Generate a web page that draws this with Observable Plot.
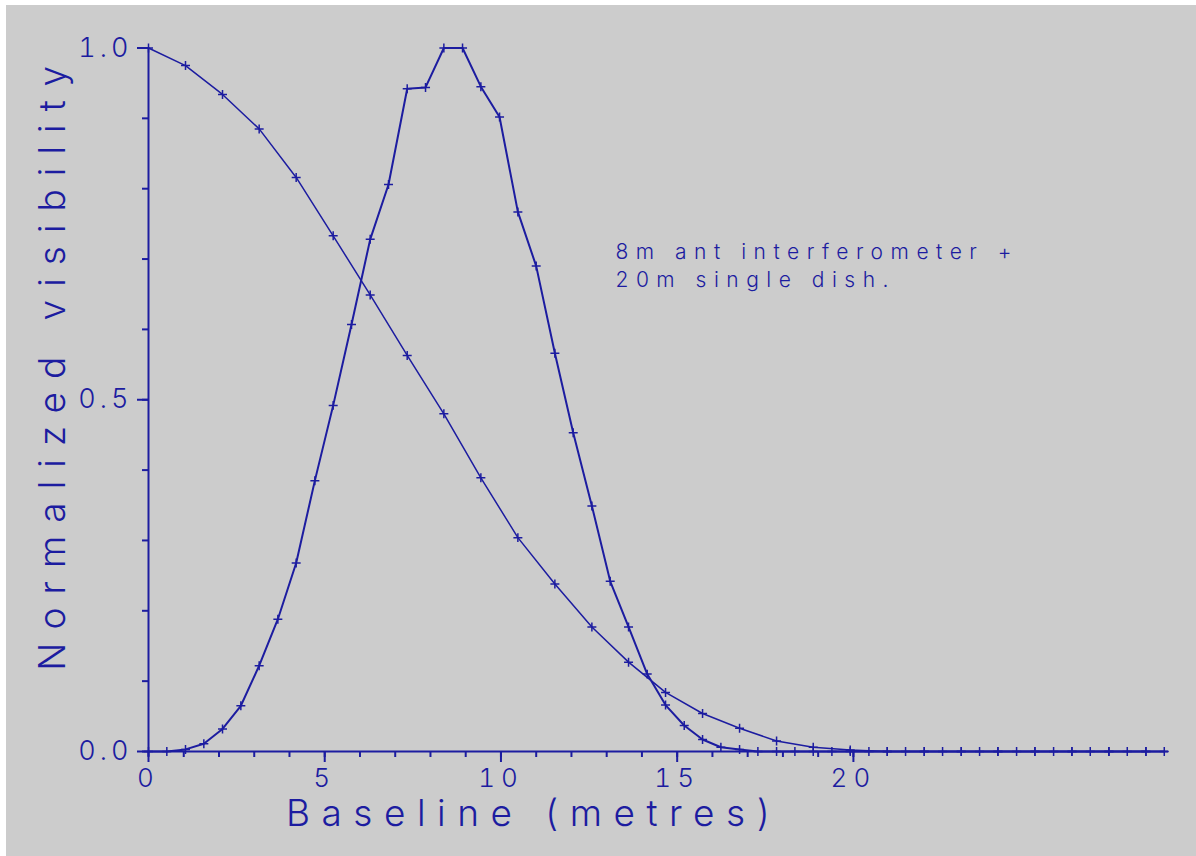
<!DOCTYPE html>
<html>
<head>
<meta charset="utf-8">
<script src="https://cdn.jsdelivr.net/npm/d3@7"></script>
<script src="https://cdn.jsdelivr.net/npm/@observablehq/plot@0.6"></script>
<style>
  html, body { margin: 0; padding: 0; background: #ffffff; }
  #chart { position: absolute; left: 6px; top: 5px; }
  #chart svg { display: block; background: #cccccc; }
  g[aria-label="x-axis tick label"] text { letter-spacing: 6px; }
  g[aria-label="y-axis tick label"] text { letter-spacing: 4px; }
</style>
</head>
<body>
<div id="chart"></div>
<script>
// Baseline sample positions (metres)
const dishBaseline = [0, 1.05, 2.10, 3.14, 4.19, 5.24, 6.29, 7.34, 8.38, 9.43, 10.48, 11.53, 12.58, 13.62,
  14.67, 15.72, 16.77, 17.82, 18.86, 19.91, 20.96, 22.01, 23.06, 24.10, 25.15, 26.20, 27.25, 28.30];
// 20m single dish normalized visibility
const dishVisibility = [1.0, 0.975, 0.934, 0.885, 0.816, 0.733, 0.649, 0.563, 0.480, 0.389, 0.304, 0.238, 0.177, 0.127,
  0.084, 0.054, 0.033, 0.015, 0.006, 0.002, 0, 0, 0, 0, 0, 0, 0, 0];

const interBaseline = [0, 0.52, 1.05, 1.57, 2.10, 2.62, 3.14, 3.67, 4.19, 4.72, 5.24, 5.76, 6.29, 6.81, 7.34, 7.86,
  8.38, 8.91, 9.43, 9.96, 10.48, 11.00, 11.53, 12.05, 12.58, 13.10, 13.62, 14.15, 14.67, 15.20, 15.72, 16.24,
  16.77, 17.29, 17.82, 18.34, 18.86, 19.39, 19.91, 20.44, 20.96, 21.48, 22.01, 22.53, 23.06, 23.58, 24.10, 24.63,
  25.15, 25.68, 26.20, 26.72, 27.25, 27.77, 28.30, 28.82];
// 8m ant interferometer normalized visibility
const interVisibility = [0, 0, 0.003, 0.011, 0.032, 0.065, 0.122, 0.188, 0.268, 0.385, 0.492, 0.607, 0.728, 0.806,
  0.942, 0.944, 1.0, 1.0, 0.945, 0.902, 0.767, 0.690, 0.566, 0.453, 0.349, 0.242, 0.177, 0.110, 0.066, 0.037,
  0.017, 0.006, 0.003, 0, 0, 0, 0, 0, 0, 0, 0, 0, 0, 0, 0, 0, 0, 0, 0, 0, 0, 0, 0, 0, 0, 0];

const xMajorTicks = [0, 5, 10, 15, 20];
const xMinorTicks = [0, 1, 2, 3, 4, 5, 6, 7, 8, 9, 10, 11, 12, 13, 14, 15, 16, 17, 18, 19, 20];
const yMajorTicks = [0, 0.5, 1.0];
const yMinorTicks = [0, 0.1, 0.2, 0.3, 0.4, 0.5, 0.6, 0.7, 0.8, 0.9, 1.0];

const xTitle = "Baseline (metres)";
const yTitle = "Normalized visibility";
const noteLine1 = "8m ant interferometer +";
const noteLine2 = "20m single dish.";

const blue = "#1c1ca0";
const font = "Inter, 'DejaVu Sans', sans-serif";

const dish = dishBaseline.map((b, i) => ({b, v: dishVisibility[i]}));
const inter = interBaseline.map((b, i) => ({b, v: interVisibility[i]}));

const chart = Plot.plot({
  width: 1190,
  height: 851,
  marginLeft: 142,
  marginRight: 28,
  marginTop: 42.5,
  marginBottom: 105,
  style: {background: "#cccccc", fontFamily: font, color: blue, fontWeight: 300},
  x: {domain: [0, 28.94]},
  y: {domain: [0, 1]},
  marks: [
    Plot.ruleY([0], {stroke: blue, strokeWidth: 2}),
    Plot.ruleX([0], {stroke: blue, strokeWidth: 2}),
    Plot.axisX({ticks: xMinorTicks, tickSize: 6, tickFormat: () => "", stroke: blue, strokeWidth: 2, label: null}),
    Plot.axisX({ticks: xMajorTicks, tickSize: 11, tickPadding: 6, tickFormat: d3.format("d"), stroke: blue, strokeWidth: 2,
      fontSize: 26, fill: blue, label: null}),
    Plot.axisY({ticks: yMinorTicks, tickSize: 6, tickFormat: () => "", stroke: blue, strokeWidth: 2, label: null}),
    Plot.axisY({ticks: yMajorTicks, tickSize: 11, tickPadding: 5, tickFormat: d3.format(".1f"), stroke: blue, strokeWidth: 2,
      fontSize: 27, fill: blue, label: null}),
    Plot.line(dish, {x: "b", y: "v", stroke: blue, strokeWidth: 1.5}),
    Plot.line(inter, {x: "b", y: "v", stroke: blue, strokeWidth: 2}),
    Plot.dot(dish, {x: "b", y: "v", symbol: "plus", r: 3, stroke: blue, strokeWidth: 1.5}),
    Plot.dot(inter, {x: "b", y: "v", symbol: "plus", r: 3, stroke: blue, strokeWidth: 1.5}),
    Plot.text([xTitle], {frameAnchor: "bottom", textAnchor: "middle", dx: -125, dy: 63,
      lineAnchor: "middle", fontSize: 37, fill: blue}),
    Plot.text([yTitle], {frameAnchor: "left", textAnchor: "middle", rotate: -90, dx: -95, dy: -38,
      lineAnchor: "middle", fontSize: 37, fill: blue}),
    Plot.text([noteLine1], {frameAnchor: "top-left", dx: 467, dy: 196, lineAnchor: "top", textAnchor: "start",
      fontSize: 21, fill: blue}),
    Plot.text([noteLine2], {frameAnchor: "top-left", dx: 467, dy: 224, lineAnchor: "top", textAnchor: "start",
      fontSize: 21, fill: blue})
  ]
});
const spacing = new Map([[xTitle, "11.5px"], [yTitle, "13px"], [noteLine1, "7.5px"], [noteLine2, "7.5px"]]);
d3.select(chart).selectAll("text").each(function () {
  const s = spacing.get(this.textContent);
  if (s) this.style.letterSpacing = s;
});
document.getElementById("chart").appendChild(chart);
</script>
</body>
</html>
